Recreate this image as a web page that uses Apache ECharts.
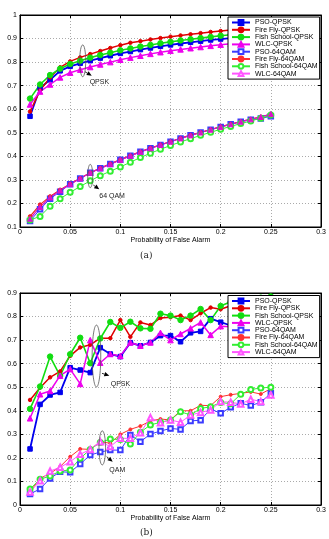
<!DOCTYPE html>
<html>
<head>
<meta charset="utf-8">
<script src="https://cdn.jsdelivr.net/npm/echarts@6/dist/echarts.min.js"></script>
<style>
  html, body { margin: 0; padding: 0; background: #fff; }
  #chart { width: 329px; height: 539px; }
</style>
</head>
<body>
<div id="chart"></div>
<script>
// x values (probability of false alarm)
const pfa = [0.01, 0.02, 0.03, 0.04, 0.05, 0.06, 0.07, 0.08, 0.09, 0.10,
             0.11, 0.12, 0.13, 0.14, 0.15, 0.16, 0.17, 0.18, 0.19, 0.20,
             0.21, 0.22, 0.23, 0.24, 0.25];

const series_names = ["PSO-QPSK", "Fire Fly-QPSK", "Fish School-QPSK", "WLC-QPSK",
                      "PSO-64QAM", "Fire Fly-64QAM", "Fish School-64QAM", "WLC-64QAM"];

// (a) smooth curves
const pso_qpsk_a = [0.57, 0.69, 0.725, 0.763, 0.782, 0.795, 0.806, 0.817, 0.827, 0.837, 0.845, 0.853, 0.86, 0.867, 0.873, 0.879, 0.884, 0.889, 0.894, 0.898, 0.902, 0.906, 0.91, 0.913, 0.917];
const ff_qpsk_a  = [0.59, 0.68, 0.735, 0.778, 0.803, 0.82, 0.834, 0.847, 0.86, 0.872, 0.882, 0.889, 0.896, 0.902, 0.908, 0.913, 0.918, 0.923, 0.928, 0.932, 0.936, 0.94, 0.943, 0.947, 0.95];
const fs_qpsk_a  = [0.645, 0.705, 0.745, 0.772, 0.792, 0.806, 0.819, 0.83, 0.84, 0.85, 0.858, 0.866, 0.873, 0.88, 0.886, 0.892, 0.897, 0.902, 0.907, 0.912, 0.916, 0.92, 0.924, 0.928, 0.931];
const wlc_qpsk_a = [0.62, 0.675, 0.705, 0.735, 0.755, 0.768, 0.779, 0.79, 0.8, 0.81, 0.819, 0.827, 0.835, 0.842, 0.848, 0.854, 0.859, 0.864, 0.869, 0.874, 0.878, 0.882, 0.886, 0.89, 0.894];
const pso_qam_a  = [0.125, 0.175, 0.22, 0.25, 0.282, 0.306, 0.33, 0.349, 0.367, 0.385, 0.402, 0.419, 0.434, 0.448, 0.462, 0.476, 0.489, 0.501, 0.513, 0.525, 0.536, 0.547, 0.555, 0.561, 0.57];
const ff_qam_a   = [0.145, 0.195, 0.23, 0.258, 0.283, 0.307, 0.33, 0.35, 0.368, 0.386, 0.403, 0.42, 0.435, 0.449, 0.463, 0.477, 0.49, 0.502, 0.514, 0.526, 0.537, 0.548, 0.558, 0.568, 0.578];
const fs_qam_a   = [0.13, 0.145, 0.188, 0.22, 0.247, 0.272, 0.296, 0.318, 0.337, 0.355, 0.375, 0.395, 0.413, 0.43, 0.446, 0.461, 0.475, 0.489, 0.502, 0.515, 0.527, 0.539, 0.55, 0.562, 0.575];
const wlc_qam_a  = [0.135, 0.185, 0.225, 0.255, 0.282, 0.306, 0.33, 0.349, 0.367, 0.385, 0.402, 0.419, 0.434, 0.448, 0.462, 0.476, 0.489, 0.501, 0.513, 0.525, 0.536, 0.547, 0.557, 0.567, 0.58];

// (b) noisy curves
const pso_qpsk_b = [0.238, 0.427, 0.467, 0.478, 0.583, 0.573, 0.562, 0.668, 0.641, 0.63, 0.689, 0.676, 0.69, 0.719, 0.719, 0.693, 0.731, 0.737, 0.791, 0.776, 0.762, 0.77, 0.78, 0.79, 0.80];
const ff_qpsk_b  = [0.446, 0.498, 0.542, 0.567, 0.633, 0.669, 0.68, 0.708, 0.708, 0.785, 0.714, 0.775, 0.764, 0.794, 0.797, 0.804, 0.785, 0.814, 0.838, 0.831, 0.846, 0.85, 0.86, 0.855, 0.87];
const fs_qpsk_b  = [0.408, 0.503, 0.63, 0.548, 0.64, 0.71, 0.602, 0.707, 0.777, 0.752, 0.778, 0.75, 0.748, 0.812, 0.804, 0.785, 0.804, 0.832, 0.785, 0.845, 0.863, 0.87, 0.86, 0.88, 0.885];
const wlc_qpsk_b = [0.368, 0.47, 0.484, 0.549, 0.577, 0.514, 0.70, 0.604, 0.641, 0.633, 0.69, 0.676, 0.69, 0.731, 0.70, 0.726, 0.75, 0.775, 0.722, 0.759, 0.757, 0.77, 0.78, 0.78, 0.79];
const pso_qam_b  = [0.047, 0.068, 0.113, 0.141, 0.139, 0.174, 0.212, 0.225, 0.233, 0.233, 0.297, 0.269, 0.301, 0.314, 0.325, 0.321, 0.357, 0.36, 0.408, 0.389, 0.415, 0.432, 0.422, 0.436, 0.474];
const ff_qam_b   = [0.057, 0.113, 0.134, 0.163, 0.205, 0.238, 0.236, 0.269, 0.262, 0.30, 0.321, 0.335, 0.357, 0.365, 0.361, 0.40, 0.40, 0.423, 0.422, 0.46, 0.468, 0.474, 0.48, 0.471, 0.494];
const fs_qam_b   = [0.068, 0.109, 0.123, 0.144, 0.149, 0.198, 0.236, 0.265, 0.28, 0.278, 0.259, 0.309, 0.34, 0.351, 0.361, 0.396, 0.382, 0.41, 0.417, 0.435, 0.43, 0.47, 0.49, 0.497, 0.50];
const wlc_qam_b  = [0.055, 0.103, 0.144, 0.16, 0.184, 0.215, 0.236, 0.269, 0.248, 0.283, 0.283, 0.307, 0.371, 0.349, 0.361, 0.351, 0.382, 0.393, 0.403, 0.439, 0.436, 0.429, 0.449, 0.439, 0.467];

// styles per series name
const STYLE = {
    "PSO-QPSK":          { color: "#0000ee", symbol: "rect",          size: 4.5, width: 1.8 },
    "Fire Fly-QPSK":     { color: "#e00000", symbol: "circle",        size: 3.5, width: 1.5 },
    "Fish School-QPSK":  { color: "#11dd11", symbol: "circle",        size: 5.5, width: 1.6 },
    "WLC-QPSK":          { color: "#ee00ee", symbol: "triangle",      size: 5.5, width: 1.5 },
    "PSO-64QAM":         { color: "#3b3bff", symbol: "emptyRect",     size: 4.5, width: 1 },
    "Fire Fly-64QAM":    { color: "#ff3030", symbol: "circle",        size: 3,   width: 1 },
    "Fish School-64QAM": { color: "#33ee33", symbol: "emptyCircle",   size: 5,   width: 1 },
    "WLC-64QAM":         { color: "#ff55ff", symbol: "emptyTriangle", size: 5.5, width: 1 },
};
// in (a) the 64QAM magenta/red marks look solid
const STYLE_A = {
    "WLC-64QAM":      { color: "#dd11cc", symbol: "triangle", size: 5, width: 1.2 },
    "Fire Fly-64QAM": { color: "#ee2020", symbol: "circle",   size: 3.5, width: 1.2 },
};

function make_series(name, values, gi, override) {
    const st = (override && override[name]) || STYLE[name];
    return {
        name,
        type: "line",
        xAxisIndex: gi,
        yAxisIndex: gi,
        data: pfa.map((x, i) => [x, values[i]]),
        symbol: st.symbol,
        symbolSize: st.size,
        showSymbol: true,
        animation: false,
        lineStyle: { color: st.color, width: st.width },
        itemStyle: { color: st.color, borderColor: st.color, borderWidth: 1 },
        emphasis: { disabled: true },
    };
}

const a_values = [pso_qpsk_a, ff_qpsk_a, fs_qpsk_a, wlc_qpsk_a, pso_qam_a, ff_qam_a, fs_qam_a, wlc_qam_a];
const b_values = [pso_qpsk_b, ff_qpsk_b, fs_qpsk_b, wlc_qpsk_b, pso_qam_b, ff_qam_b, fs_qam_b, wlc_qam_b];

// (b) series first: the legends pick their icons from the first series of each name
const series = [];
series_names.forEach((n, k) => series.push(make_series(n, b_values[k], 1)));
series_names.forEach((n, k) => series.push(make_series(n, a_values[k], 0, STYLE_A)));

const FONT = "Liberation Sans";
const grid_line = { show: true, lineStyle: { type: [1, 2], color: "#aaa", width: 1 } };
const tick_in = { show: true, inside: true, length: 3, lineStyle: { color: "#000" } };

function x_axis(gi) {
    return {
        type: "value", gridIndex: gi, min: 0, max: 0.3, interval: 0.05,
        name: "Probability of False Alarm", nameLocation: "middle", nameGap: 9,
        nameTextStyle: { fontSize: 7, fontFamily: FONT, color: "#000" },
        axisLine: { show: true, onZero: false, lineStyle: { color: "#000", width: 1 } },
        axisTick: tick_in,
        axisLabel: { fontSize: 7, fontFamily: FONT, color: "#000", margin: 2 },
        splitLine: grid_line,
    };
}
function y_axis(gi, min, max) {
    return {
        type: "value", gridIndex: gi, min, max, interval: 0.1,
        name: "Probability of Detection", nameLocation: "middle", nameGap: 11,
        nameTextStyle: { fontSize: 6.5, fontFamily: FONT, color: "#000" },
        axisLine: { show: true, onZero: false, lineStyle: { color: "#000", width: 1 } },
        axisTick: tick_in,
        axisLabel: { fontSize: 7, fontFamily: FONT, color: "#000", margin: 3,
                     formatter: (v) => String(Math.round(v * 10) / 10) },
        splitLine: grid_line,
    };
}
// matlab box: ticks on the top and right edges too
function mirror_axis(gi, pos, min, max, step) {
    return {
        type: "value", gridIndex: gi, position: pos, min, max, interval: step,
        axisLine: { show: true, onZero: false, lineStyle: { color: "#000", width: 1 } },
        axisTick: tick_in, axisLabel: { show: false }, splitLine: { show: false },
    };
}
function legend(top) {
    return {
        data: series_names, orient: "vertical", left: 228, top,
        itemWidth: 18, itemHeight: 6, itemGap: 0.3,
        padding: [2, 2, 2, 3],
        backgroundColor: "#fff", borderColor: "#000", borderWidth: 1,
        textStyle: { fontSize: 7, fontFamily: FONT, color: "#000", lineHeight: 7 },
        selectedMode: false,
    };
}
function grid(top) {
    return {
        left: 20, top, width: 301, height: 212,
        outerBoundsMode: "none", containLabel: false,
        show: true, borderColor: "#000", borderWidth: 1, backgroundColor: "transparent",
    };
}
const title_style = { fontSize: 9, fontWeight: "normal", fontFamily: "DejaVu Serif", color: "#222" };

const chart = echarts.init(document.getElementById("chart"), null, { renderer: "canvas" });
chart.setOption({
    animation: false,
    backgroundColor: "#fff",
    title: [
        { text: "(a)", left: 140, top: 251, padding: 0, textStyle: title_style },
        { text: "(b)", left: 140, top: 528, padding: 0, textStyle: title_style },
    ],
    grid: [grid(15), grid(293)],
    xAxis: [x_axis(0), x_axis(1), mirror_axis(0, "top", 0, 0.3, 0.05), mirror_axis(1, "top", 0, 0.3, 0.05)],
    yAxis: [y_axis(0, 0.1, 1), y_axis(1, 0, 0.9), mirror_axis(0, "right", 0.1, 1, 0.1), mirror_axis(1, "right", 0, 0.9, 0.1)],
    legend: [legend(17), legend(295.5)],
    series,
});

// annotations: ellipse around a bundle of curves + arrow + label (data coords)
const notes = [
    { gi: 0, cx: 0.0625, y_top: 0.873, y_bot: 0.738, rx: 3,   from: [0.0648, 0.759], to: [0.0715, 0.742], text: "QPSK",   at: [0.0694, 0.716] },
    { gi: 0, cx: 0.07,   y_top: 0.366, y_bot: 0.267, rx: 2.5, from: [0.0731, 0.278], to: [0.079, 0.26],   text: "64 QAM", at: [0.079, 0.230] },
    { gi: 1, cx: 0.0762, y_top: 0.764, y_bot: 0.501, rx: 4.3, from: [0.0817, 0.559], to: [0.089, 0.549],  text: "QPSK",   at: [0.0904, 0.515] },
    { gi: 1, cx: 0.082,  y_top: 0.315, y_bot: 0.17,  rx: 3.3, from: [0.0864, 0.205], to: [0.0924, 0.184], text: "QAM",    at: [0.089, 0.149] },
];

const graphics = [];
notes.forEach((n) => {
    const to_px = (p) => chart.convertToPixel({ xAxisIndex: n.gi, yAxisIndex: n.gi }, p);
    const top = to_px([n.cx, n.y_top]);
    const bot = to_px([n.cx, n.y_bot]);
    graphics.push({
        type: "ellipse", z: 50,
        shape: { cx: top[0], cy: (top[1] + bot[1]) / 2, rx: n.rx, ry: (bot[1] - top[1]) / 2 },
        style: { fill: null, stroke: "#555", lineWidth: 0.8 },
    });
    const a = to_px(n.from), b = to_px(n.to);
    const dx = b[0] - a[0], dy = b[1] - a[1];
    const len = Math.hypot(dx, dy), ux = dx / len, uy = dy / len;
    const head = 5, half = 2.2;
    const base = [b[0] - ux * head, b[1] - uy * head];
    graphics.push({
        type: "line", z: 50,
        shape: { x1: a[0], y1: a[1], x2: base[0], y2: base[1] },
        style: { stroke: "#000", lineWidth: 0.8 },
    });
    graphics.push({
        type: "polygon", z: 50,
        shape: { points: [b, [base[0] - uy * half, base[1] + ux * half], [base[0] + uy * half, base[1] - ux * half]] },
        style: { fill: "#000" },
    });
    const t = to_px(n.at);
    graphics.push({
        type: "text", z: 50, x: t[0], y: t[1],
        style: { text: n.text, fontSize: 7, fontFamily: FONT, fill: "#222", verticalAlign: "middle" },
    });
});
chart.setOption({ graphic: graphics });
</script>
</body>
</html>
